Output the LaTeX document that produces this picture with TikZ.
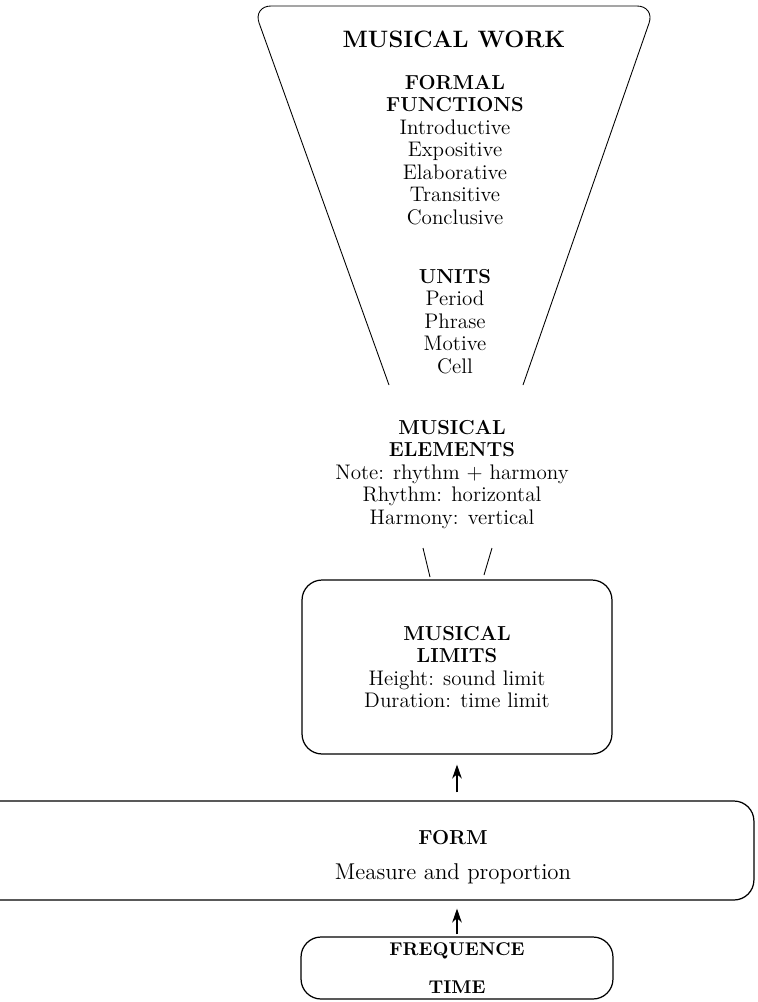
\documentclass[tikz,border=0pt]{standalone}
\usepackage{tikz}
\usetikzlibrary{arrows.meta}
\newcommand{\hd}[1]{{\fontsize{11.5}{12.8}\selectfont\bfseries #1}}

\begin{document}
\begin{tikzpicture}[x=0.02cm,y=-0.02cm,
	txt/.style={inner sep=0pt,align=center,font=\fontsize{12}{12.8}\selectfont},
	frame/.style={draw,line width=0.7pt,rounded corners=0.4cm,inner sep=0pt},
	arr/.style={-{Stealth[length=8pt,width=5.5pt]},line width=0.6pt}]
	% Rahmen
	\useasboundingbox (0,0) rectangle (758,1002);
	\clip (0,0) rectangle (758,1002);
	% Trichter
	\draw[line width=0.5pt,rounded corners=0.36cm] (389,385) -- (253,6) -- (655,6) -- (523,385);
	\node[txt,anchor=north,font=\fontsize{13.5}{15}\selectfont\bfseries] (work) at (454,31) {MUSICAL WORK};
	\node[txt,anchor=north] (functions) at (455,75) {\hd{FORMAL}\\\hd{FUNCTIONS}\\Introductive\\Expositive\\Elaborative\\Transitive\\Conclusive};
	\node[txt,anchor=north] (units) at (455,269) {\hd{UNITS}\\Period\\Phrase\\Motive\\Cell};
	% Elemente
	\node[txt,anchor=north] (elements) at (452,420) {\hd{MUSICAL}\\\hd{ELEMENTS}\\Note: rhythm + harmony\\Rhythm: horizontal\\Harmony: vertical};
	\coordinate (e1) at (423,548);
	\coordinate (e2) at (430,577);
	\coordinate (e3) at (492,548);
	\coordinate (e4) at (484,575);
	\draw[line width=0.5pt] (e1) -- (e2);
	\draw[line width=0.5pt] (e3) -- (e4);
	% Kaesten
	\node[frame,txt,minimum width=6.2cm,minimum height=3.48cm] (limits) at (457,667) {\hd{MUSICAL}\\\hd{LIMITS}\\Height: sound limit\\Duration: time limit};
	\node[frame,minimum width=15.88cm,minimum height=1.98cm] (form) at (357,850.5) {};
	\node[txt,anchor=north,font=\fontsize{13}{20}\selectfont] (formtext) at (453,830) {\hd{FORM}\\Measure and proportion};
	\node[frame,txt,minimum width=6.24cm,minimum height=1.24cm,font=\fontsize{10.5}{22}\selectfont\bfseries] (freq) at (457,968) {FREQUENCE\\TIME};
	% Pfeile
	\draw[arr,shorten <=0.04cm,shorten >=0.16cm] (freq.north) -- (freq.north |- form.south);
	\draw[arr,shorten <=0.16cm,shorten >=0.2cm] (form.north -| limits.south) -- (limits.south);
\end{tikzpicture}
\end{document}
